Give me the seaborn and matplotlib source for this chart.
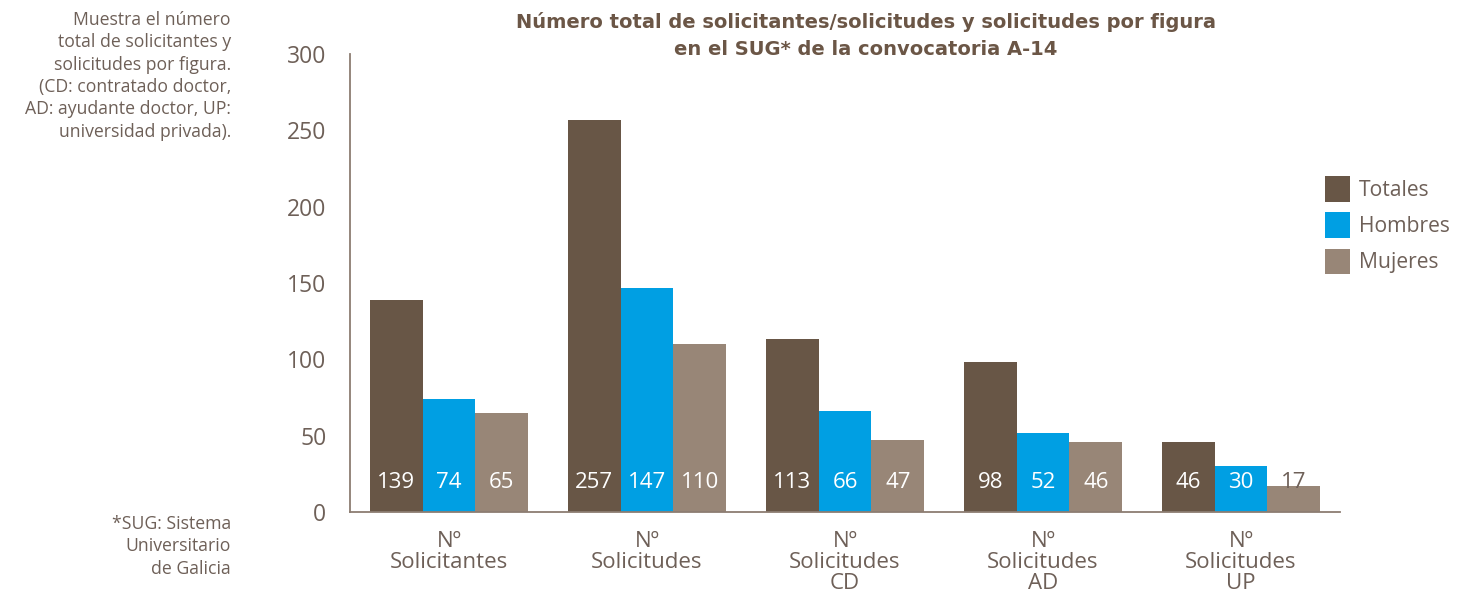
import matplotlib
matplotlib.use("Agg")
import matplotlib.pyplot as plt
from matplotlib.patches import Patch
import seaborn as sns
import pandas as pd

categories = ["Nº\nSolicitantes", "Nº\nSolicitudes", "Nº\nSolicitudes\nCD", "Nº\nSolicitudes\nAD", "Nº\nSolicitudes\nUP"]
series = ["Totales", "Hombres", "Mujeres"]
totales = [139, 257, 113, 98, 46]
hombres = [74, 147, 66, 52, 30]
mujeres = [65, 110, 47, 46, 17]
yticks = [0, 50, 100, 150, 200, 250, 300]

title = "Número total de solicitantes/solicitudes y solicitudes por figura\nen el SUG* de la convocatoria A-14"
note_top = "Muestra el número\ntotal de solicitantes y\nsolicitudes por figura.\n(CD: contratado doctor,\nAD: ayudante doctor, UP:\nuniversidad privada)."
note_bottom = "*SUG: Sistema\nUniversitario\nde Galicia"

colors = ["#685646", "#009fe3", "#988677"]
text_col = "#6e6058"
axis_col = "#8c7d72"

rows = []
for s, vals in zip(series, [totales, hombres, mujeres]):
    for c, v in zip(categories, vals):
        rows.append({"cat": c, "serie": s, "val": v})
df = pd.DataFrame(rows)

sns.set_theme(style="white")
plt.rcParams["font.family"] = ["Open Sans", "DejaVu Sans"]

fig = plt.figure(figsize=(14.78, 5.94), dpi=100)
ax = fig.add_axes([350 / 1478, 1 - 512 / 594, 990 / 1478, (512 - 54) / 594])

sns.barplot(data=df, x="cat", y="val", hue="serie", order=categories, hue_order=series,
            palette=colors, saturation=1, width=0.8, gap=0, ax=ax, legend=False, linewidth=0)

ax.set_xlim(-0.5, len(categories) - 0.5)
ax.set_ylim(0, 300)
ax.set_yticks(yticks)
ax.set_yticklabels([str(t) for t in yticks], fontsize=16.5, color=text_col)
ax.set_xticks(range(len(categories)))
ax.set_xticklabels(categories, fontsize=16, color=text_col, linespacing=0.98)
ax.tick_params(axis="x", length=0, pad=14)
ax.tick_params(axis="y", length=9, width=1.3, color=axis_col, direction="out", pad=8)
ax.set_xticks([i + 0.5 for i in range(-1, len(categories))], minor=True)
ax.tick_params(axis="x", which="minor", length=8, width=1.3, color=axis_col, direction="in")
ax.set_xlabel("")
ax.set_ylabel("")
for side in ["top", "right"]:
    ax.spines[side].set_visible(False)
for side in ["left", "bottom"]:
    ax.spines[side].set_color(axis_col)
    ax.spines[side].set_linewidth(1.3)

for cont, vals in zip(ax.containers, [totales, hombres, mujeres]):
    for p, v in zip(cont.patches, vals):
        cx = p.get_x() + p.get_width() / 2
        col = "white" if v >= 20 else text_col
        ax.text(cx, 19, str(v), ha="center", va="center", fontsize=16, color=col)

fig.text(866 / 1478, 1 - 12 / 594, title, ha="center", va="top", fontsize=14,
         fontweight="bold", color="#6b5646", linespacing=1.55, family=["DejaVu Sans"])
fig.text(231 / 1478, 1 - 11 / 594, note_top, ha="right", va="top", fontsize=12.7,
         color=text_col, linespacing=1.31)
fig.text(231 / 1478, 1 - 515 / 594, note_bottom, ha="right", va="top", fontsize=12.7,
         color=text_col, linespacing=1.31)

handles = [Patch(facecolor=c, edgecolor="none", label=s) for c, s in zip(colors, series)]
leg = fig.legend(handles=handles, loc="upper left", bbox_to_anchor=(1325 / 1478, 1 - 176 / 594),
                 frameon=False, fontsize=15.2, handlelength=1.2, handleheight=1.5,
                 labelspacing=0.5, handletextpad=0.4, borderpad=0, borderaxespad=0)
for t in leg.get_texts():
    t.set_color(text_col)

fig.savefig("out.png", dpi=100)
